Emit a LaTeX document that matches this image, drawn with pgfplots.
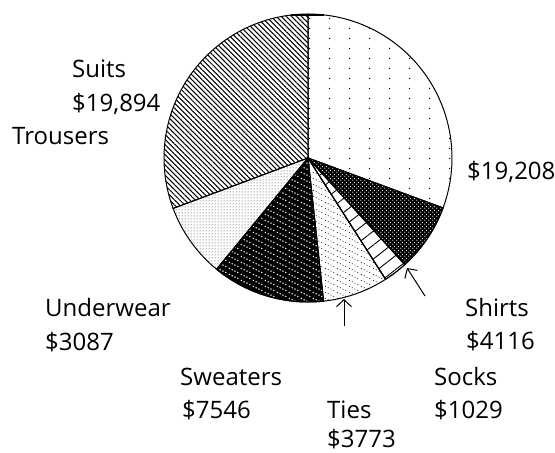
\documentclass[border=0pt]{standalone}
\usepackage{fontspec}
\setmainfont{Open Sans}
\usepackage{pgfplots}
\pgfplotsset{compat=1.18}
\usetikzlibrary{patterns,patterns.meta,arrows.meta}

% sparse dot grid (Trousers)
\pgfdeclarepatternformonly{sparsedots}{\pgfqpoint{0pt}{0pt}}{\pgfqpoint{20pt}{10pt}}{\pgfqpoint{20pt}{10pt}}{%
  \pgfpathcircle{\pgfqpoint{10pt}{5pt}}{0.75pt}\pgfusepath{fill}}
% staggered dots (Shirts, white on black)
\pgfdeclarepatternformonly{stagdots}{\pgfqpoint{0pt}{0pt}}{\pgfqpoint{4pt}{4pt}}{\pgfqpoint{4pt}{4pt}}{%
  \pgfpathcircle{\pgfqpoint{1pt}{1pt}}{0.75pt}\pgfusepath{fill}%
  \pgfpathcircle{\pgfqpoint{3pt}{3pt}}{0.75pt}\pgfusepath{fill}}
% dotted lines of slope -1/2 (Ties)
\pgfdeclarepatternformonly{dotlines}{\pgfqpoint{0pt}{0pt}}{\pgfqpoint{12pt}{6pt}}{\pgfqpoint{12pt}{6pt}}{%
  \pgfpathcircle{\pgfqpoint{1.5pt}{5.25pt}}{0.6pt}\pgfusepath{fill}%
  \pgfpathcircle{\pgfqpoint{4.5pt}{3.75pt}}{0.6pt}\pgfusepath{fill}%
  \pgfpathcircle{\pgfqpoint{7.5pt}{2.25pt}}{0.6pt}\pgfusepath{fill}%
  \pgfpathcircle{\pgfqpoint{10.5pt}{0.75pt}}{0.6pt}\pgfusepath{fill}}
% white dotted lines on black (Sweaters)
\pgfdeclarepatternformonly{bigdotlines}{\pgfqpoint{0pt}{0pt}}{\pgfqpoint{12pt}{6pt}}{\pgfqpoint{12pt}{6pt}}{%
  \pgfpathcircle{\pgfqpoint{1.5pt}{5.25pt}}{0.9pt}\pgfusepath{fill}%
  \pgfpathcircle{\pgfqpoint{4.5pt}{3.75pt}}{0.9pt}\pgfusepath{fill}%
  \pgfpathcircle{\pgfqpoint{7.5pt}{2.25pt}}{0.9pt}\pgfusepath{fill}%
  \pgfpathcircle{\pgfqpoint{10.5pt}{0.75pt}}{0.9pt}\pgfusepath{fill}}
% fine dots (Underwear)
\pgfdeclarepatternformonly{finedots}{\pgfqpoint{0pt}{0pt}}{\pgfqpoint{2.5pt}{2.5pt}}{\pgfqpoint{2.5pt}{2.5pt}}{%
  \pgfpathcircle{\pgfqpoint{1.25pt}{1.25pt}}{0.55pt}\pgfusepath{fill}}

\newcommand{\lbl}{\fontsize{24}{28}\selectfont}

\begin{document}
\begin{tikzpicture}
\begin{axis}[
  scale only axis, width=555pt, height=453pt,
  xmin=0, xmax=555, ymin=0, ymax=453, y dir=reverse,
  hide axis, clip=false]
% Sectors: value, start angle, end angle (angles)
% Trousers $19,208
\addplot[domain=-20.3:90, samples=60, variable=\t, draw=black, line width=1pt, pattern=sparsedots]
  ({308+144*cos(\t)},{158-144*sin(\t)}) -- (axis cs:308,158) -- cycle;
% Shirts $4116
\addplot[domain=-47.8:-20.3, samples=20, variable=\t, draw=black, line width=1pt, fill=black,
  postaction={pattern=stagdots, pattern color=white}]
  ({308+144*cos(\t)},{158-144*sin(\t)}) -- (axis cs:308,158) -- cycle;
% Socks $1029
\addplot[domain=-57.4:-47.8, samples=10, variable=\t, draw=black, line width=1pt, fill=white,
  postaction={pattern={Lines[angle=38,distance=11pt,line width=0.9pt]}}]
  ({308+144*cos(\t)},{158-144*sin(\t)}) -- (axis cs:308,158) -- cycle;
% Ties $3773
\addplot[domain=-83.8:-57.4, samples=20, variable=\t, draw=black, line width=1pt, pattern=dotlines]
  ({308+144*cos(\t)},{158-144*sin(\t)}) -- (axis cs:308,158) -- cycle;
% Sweaters $7546
\addplot[domain=-129.4:-83.8, samples=30, variable=\t, draw=black, line width=1pt, fill=black,
  postaction={pattern=bigdotlines, pattern color=white}]
  ({308+144*cos(\t)},{158-144*sin(\t)}) -- (axis cs:308,158) -- cycle;
% Underwear $3087
\addplot[domain=-159.5:-129.4, samples=20, variable=\t, draw=black, line width=1pt, pattern=finedots]
  ({308+144*cos(\t)},{158-144*sin(\t)}) -- (axis cs:308,158) -- cycle;
% Suits $19,894
\addplot[domain=-270:-159.5, samples=60, variable=\t, draw=black, line width=1pt,
  pattern={Lines[angle=-45,distance=3.6pt,line width=1.05pt]}]
  ({308+144*cos(\t)},{158-144*sin(\t)}) -- (axis cs:308,158) -- cycle;
% small black bar at the top
\addplot[black, line width=2.5pt] coordinates {(291,15) (324,15)};
% arrows
\addplot[black, line width=1pt, -{Straight Barb[length=7pt,width=15pt]}] coordinates {(425,296) (407,268)};
\addplot[black, line width=1pt, -{Straight Barb[length=7pt,width=15pt]}] coordinates {(344,326) (344,299)};
% labels
\node[anchor=base west, font=\lbl, inner sep=0pt] at (axis cs:72,77) {Suits};
\node[anchor=base west, font=\lbl, inner sep=0pt] at (axis cs:72,111) {\$19,894};
\node[anchor=base west, font=\lbl, inner sep=0pt] at (axis cs:12,144) {Trousers};
\node[anchor=base west, font=\lbl, inner sep=0pt] at (axis cs:467,179) {\$19,208};
\node[anchor=base west, font=\lbl, inner sep=0pt] at (axis cs:45,316) {Underwear};
\node[anchor=base west, font=\lbl, inner sep=0pt] at (axis cs:45,350) {\$3087};
\node[anchor=base west, font=\lbl, inner sep=0pt] at (axis cs:180,385) {Sweaters};
\node[anchor=base west, font=\lbl, inner sep=0pt] at (axis cs:182,418) {\$7546};
\node[anchor=base west, font=\lbl, inner sep=0pt] at (axis cs:327,418) {Ties};
\node[anchor=base west, font=\lbl, inner sep=0pt] at (axis cs:327,447) {\$3773};
\node[anchor=base west, font=\lbl, inner sep=0pt] at (axis cs:465,316) {Shirts};
\node[anchor=base west, font=\lbl, inner sep=0pt] at (axis cs:466,349) {\$4116};
\node[anchor=base west, font=\lbl, inner sep=0pt] at (axis cs:434,385) {Socks};
\node[anchor=base west, font=\lbl, inner sep=0pt] at (axis cs:434,418) {\$1029};
\end{axis}
\pgfresetboundingbox
\path (0,0) rectangle (555pt,453pt);
\end{tikzpicture}
\end{document}
